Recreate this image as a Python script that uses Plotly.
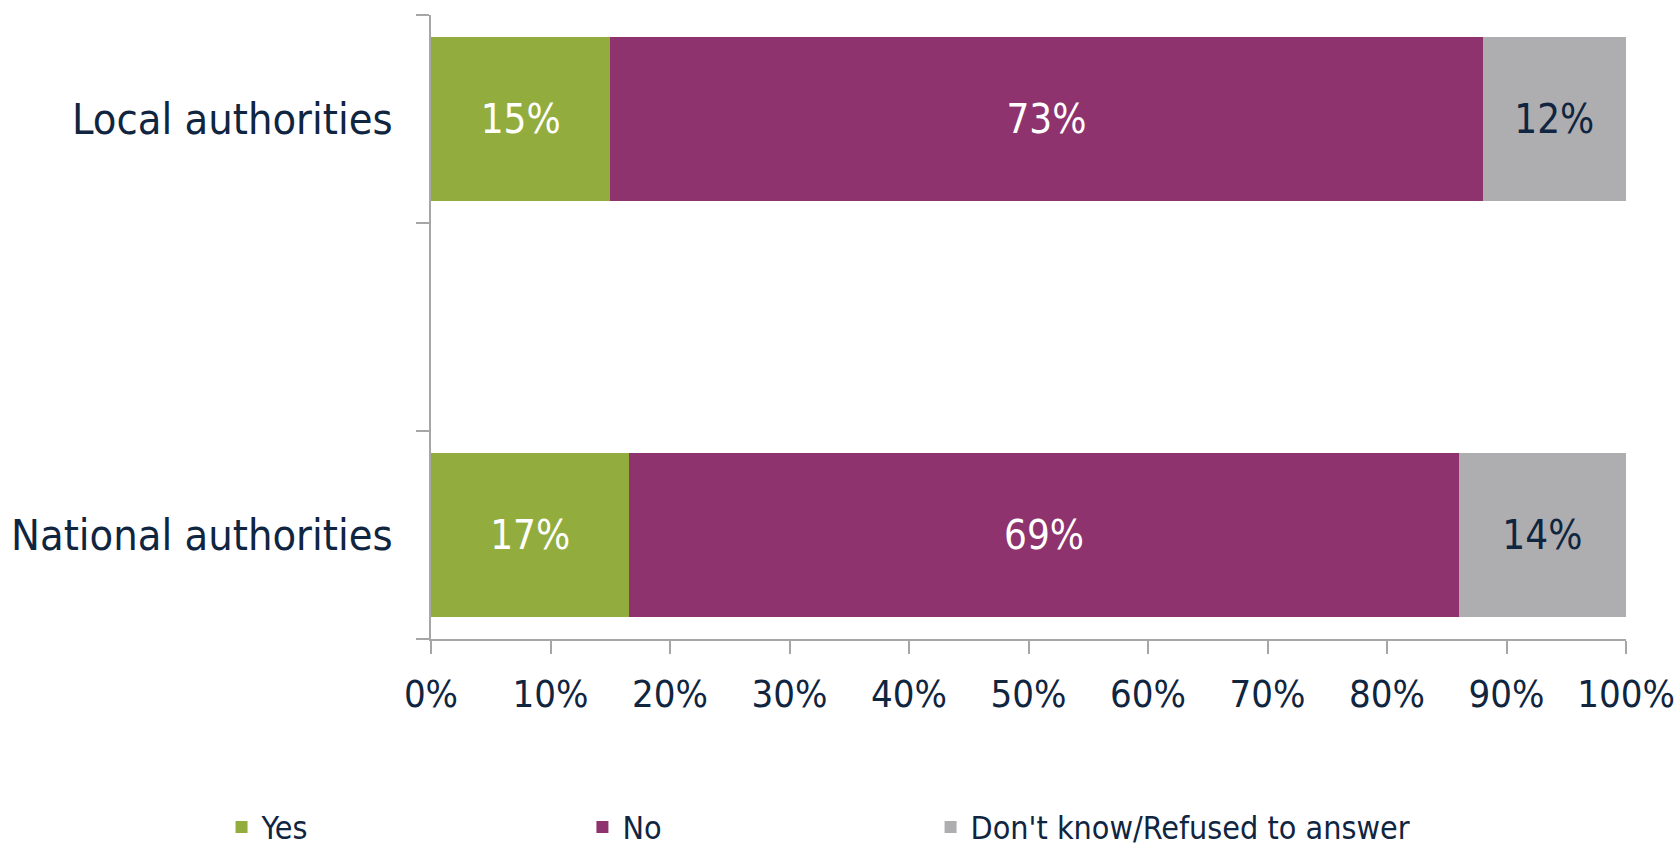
import plotly.graph_objects as go

categories = ["National authorities", "Local authorities"]
axis_order = ["National authorities", " ", "Local authorities"]
yes_vals = [16.6, 15.0]
no_vals = [69.4, 73.0]
dk_vals = [14.0, 12.0]
series_names = ["Yes", "No", "Don't know/Refused to answer"]
x_ticks = [0, 10, 20, 30, 40, 50, 60, 70, 80, 90, 100]
x_tick_labels = ["0%", "10%", "20%", "30%", "40%", "50%", "60%", "70%", "80%", "90%", "100%"]

colors = ["#92AD3E", "#8E336E", "#AEAEB0"]
label_colors = ["#FFFFFF", "#FFFFFF", "#10253F"]
legend_ids = ["legend", "legend2", "legend3"]
legend_x = [0.1321, 0.3473, 0.5549]
NAVY = "#10253F"
AXIS = "#A6A6A6"
FONT = "DejaVu Sans Condensed"

fig = go.Figure()
for name, vals, col, lc, lg in zip(series_names, [yes_vals, no_vals, dk_vals], colors, label_colors, legend_ids):
    fig.add_trace(go.Bar(
        y=categories, x=vals, name=name, orientation="h",
        marker=dict(color=col, line=dict(width=0)),
        texttemplate="%{x:.0f}%", textposition="inside", insidetextanchor="middle",
        textangle=0, constraintext="none",
        insidetextfont=dict(family=FONT, size=40, color=lc),
        hoverinfo="skip", legend=lg,
    ))

legend_common = dict(
    orientation="h", xref="container", yref="paper",
    xanchor="left", y=-0.3456, yanchor="bottom",
    font=dict(family=FONT, size=32, color=NAVY),
    bgcolor="rgba(0,0,0,0)",
)

fig.update_layout(
    barmode="stack", bargap=0.21,
    width=1677, height=849,
    margin=dict(l=431, r=51, t=15, b=210, autoexpand=False),
    paper_bgcolor="white", plot_bgcolor="white",
    showlegend=True,
    legend=dict(x=legend_x[0], **legend_common),
    legend2=dict(x=legend_x[1], **legend_common),
    legend3=dict(x=legend_x[2], **legend_common),
    xaxis=dict(
        range=[0, 100], tickmode="array", tickvals=x_ticks, ticktext=x_tick_labels,
        showgrid=False, zeroline=False, automargin=False,
        showline=True, linecolor=AXIS, linewidth=1.5,
        ticks="outside", ticklen=13, tickcolor=AXIS, tickwidth=1.5,
        tickfont=dict(family=FONT, size=38, color=NAVY),
        ticklabelstandoff=8,
        fixedrange=True,
    ),
    yaxis=dict(
        type="category", categoryorder="array", categoryarray=axis_order,
        range=[-0.5, 2.5], automargin=False,
        showgrid=False, zeroline=False,
        showline=True, linecolor=AXIS, linewidth=1.5,
        ticks="outside", tickson="boundaries", ticklen=13, tickcolor=AXIS, tickwidth=1.5,
        tickfont=dict(family=FONT, size=43, color=NAVY),
        ticklabelstandoff=28,
        fixedrange=True,
    ),
)

fig.write_html(
    "out.html",
    config={"displayModeBar": False},
    post_script="document.body.style.margin='0px';document.body.style.overflow='hidden';",
)
